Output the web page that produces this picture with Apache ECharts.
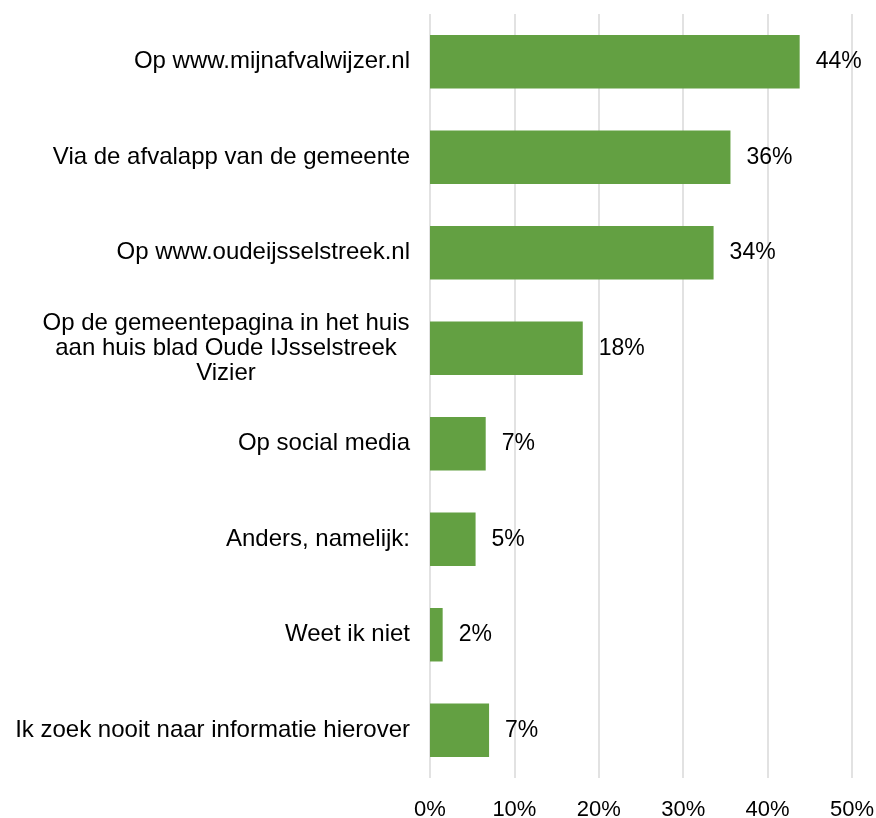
<!DOCTYPE html>
<html>
<head>
<meta charset="utf-8">
<script src="https://cdn.jsdelivr.net/npm/echarts@6/dist/echarts.min.js"></script>
<style>
  html, body { margin: 0; padding: 0; background: #fff; }
  #chart { width: 876px; height: 818px; }
</style>
</head>
<body>
<div id="chart"></div>
<script>
// categorieën (van boven naar beneden)
const categories = [
  'Op www.mijnafvalwijzer.nl',
  'Via de afvalapp van de gemeente',
  'Op www.oudeijsselstreek.nl',
  'Op de gemeentepagina in het huis\naan huis blad Oude IJsselstreek\nVizier',
  'Op social media',
  'Anders, namelijk:',
  'Weet ik niet',
  'Ik zoek nooit naar informatie hierover'
]
// percentages
const values = [43.8, 35.6, 33.6, 18.1, 6.6, 5.4, 1.5, 7.0]
const tickMax = 50
const tickStep = 10

const font = 'Liberation Sans, Arial, sans-serif'
const chart = echarts.init(document.getElementById('chart'))

const option = {
  animation: false,
  grid: {
    left: 430,
    right: 24,
    top: 14,
    bottom: 40,
    containLabel: false,
    outerBoundsMode: 'none'
  },
  xAxis: {
    type: 'value',
    min: 0,
    max: tickMax,
    interval: tickStep,
    axisLine: { show: false },
    axisTick: { show: false },
    splitLine: { lineStyle: { color: '#d9d9d9', width: 1.5 } },
    axisLabel: {
      formatter: '{value}%',
      color: '#000',
      fontFamily: font,
      fontSize: 22,
      margin: 21
    }
  },
  yAxis: {
    type: 'category',
    inverse: true,
    data: categories,
    axisLine: { show: false },
    axisTick: { show: false },
    axisLabel: {
      margin: 20,
      color: '#000',
      fontFamily: font,
      fontSize: 24,
      lineHeight: 25,
      formatter: function (v) {
        if (v.indexOf('\n') < 0) return v
        // meerdere regels: gecentreerd binnen het blok
        return v.split('\n').map(l => '{c|' + l + '}').join('\n')
      },
      rich: {
        c: {
          width: 368,
          align: 'center',
          color: '#000',
          fontFamily: font,
          fontSize: 24,
          lineHeight: 25
        }
      }
    }
  },
  series: [{
    type: 'bar',
    data: values,
    barCategoryGap: '44%',
    itemStyle: { color: '#63a042' },
    label: {
      show: true,
      position: 'right',
      distance: 16,
      color: '#000',
      fontFamily: font,
      fontSize: 23,
      formatter: p => Math.round(p.value) + '%'
    }
  }]
}

chart.setOption(option)
</script>
</body>
</html>
